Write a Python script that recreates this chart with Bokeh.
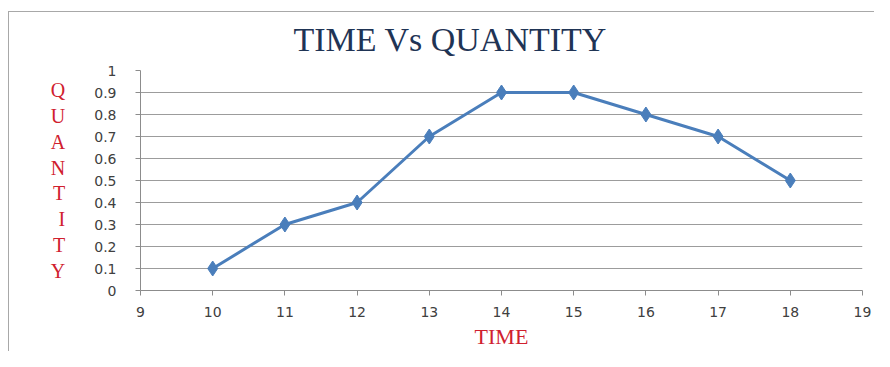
from bokeh.plotting import figure
from bokeh.models import ColumnDataSource, FixedTicker, Range1d
from bokeh.embed import file_html
from bokeh.resources import INLINE

# Data
time = [10, 11, 12, 13, 14, 15, 16, 17, 18]
quantity = [0.1, 0.3, 0.4, 0.7, 0.9, 0.9, 0.8, 0.7, 0.5]
x_ticks = [9, 10, 11, 12, 13, 14, 15, 16, 17, 18, 19]
y_ticks = [0, 0.1, 0.2, 0.3, 0.4, 0.5, 0.6, 0.7, 0.8, 0.9, 1]
y_tick_labels = {0: "0", 0.1: "0.1", 0.2: "0.2", 0.3: "0.3", 0.4: "0.4", 0.5: "0.5",
                 0.6: "0.6", 0.7: "0.7", 0.8: "0.8", 0.9: "0.9", 1: "1"}

source = ColumnDataSource(dict(x=time, y=quantity))

g = "linear-gradient(#a8a8a8,#a8a8a8)"
bg = (f"{g} 8px 11px / 867px 1px no-repeat, "
      f"{g} 8px 11px / 1px 345px no-repeat, "
      f"{g} 874px 11px / 1px 345px no-repeat, white")

p = figure(width=874, height=351, output_backend="svg", toolbar_location=None,
           x_range=Range1d(9, 19), y_range=Range1d(0, 1),
           min_border_left=140, min_border_right=12, min_border_top=70, min_border_bottom=60,
           border_fill_color=None, styles={"background": bg})

p.title.text = "TIME Vs QUANTITY"
p.title.align = "left"
p.title.offset = 153
p.title.text_font = "Liberation Serif"
p.title.text_font_size = "34px"
p.title.text_font_style = "normal"
p.title.text_color = "#1f3455"
p.title.standoff = 26

p.line("x", "y", source=source, line_color="#4a7ebb", line_width=3)
p.scatter("x", "y", source=source, marker="diamond", size=15,
          fill_color="#4a7ebb", line_color="#4a7ebb")

p.outline_line_color = None
p.xgrid.grid_line_color = None
p.ygrid.grid_line_color = "#9c9c9c"
p.ygrid.grid_line_width = 1

p.xaxis.ticker = FixedTicker(ticks=x_ticks)
p.yaxis.ticker = FixedTicker(ticks=y_ticks)
p.yaxis.major_label_overrides = y_tick_labels

for ax in (p.xaxis, p.yaxis):
    ax.axis_line_color = "#8c8c8c"
    ax.major_tick_line_color = "#8c8c8c"
    ax.minor_tick_line_color = None
    ax.major_tick_in = 0
    ax.major_tick_out = 5
    ax.major_label_text_font = "DejaVu Sans"
    ax.major_label_text_font_size = "14px"
    ax.major_label_text_color = "#404040"
    ax.axis_label_text_font = "Liberation Serif"
    ax.axis_label_text_font_style = "normal"
    ax.axis_label_text_color = "#d0202e"

p.xaxis.major_label_standoff = 11
p.yaxis.major_label_standoff = 19

p.xaxis.axis_label = "TIME"
p.xaxis.axis_label_text_font_size = "22px"
p.xaxis.axis_label_standoff = 4

p.yaxis.axis_label = "Q\nU\nA\nN\nT\nI\nT\nY"
p.yaxis.axis_label_orientation = "horizontal"
p.yaxis.axis_label_text_font_size = "20px"
p.yaxis.axis_label_text_line_height = 1.17
p.yaxis.axis_label_standoff = 26

open("out.html", "w").write(file_html(p, INLINE))
